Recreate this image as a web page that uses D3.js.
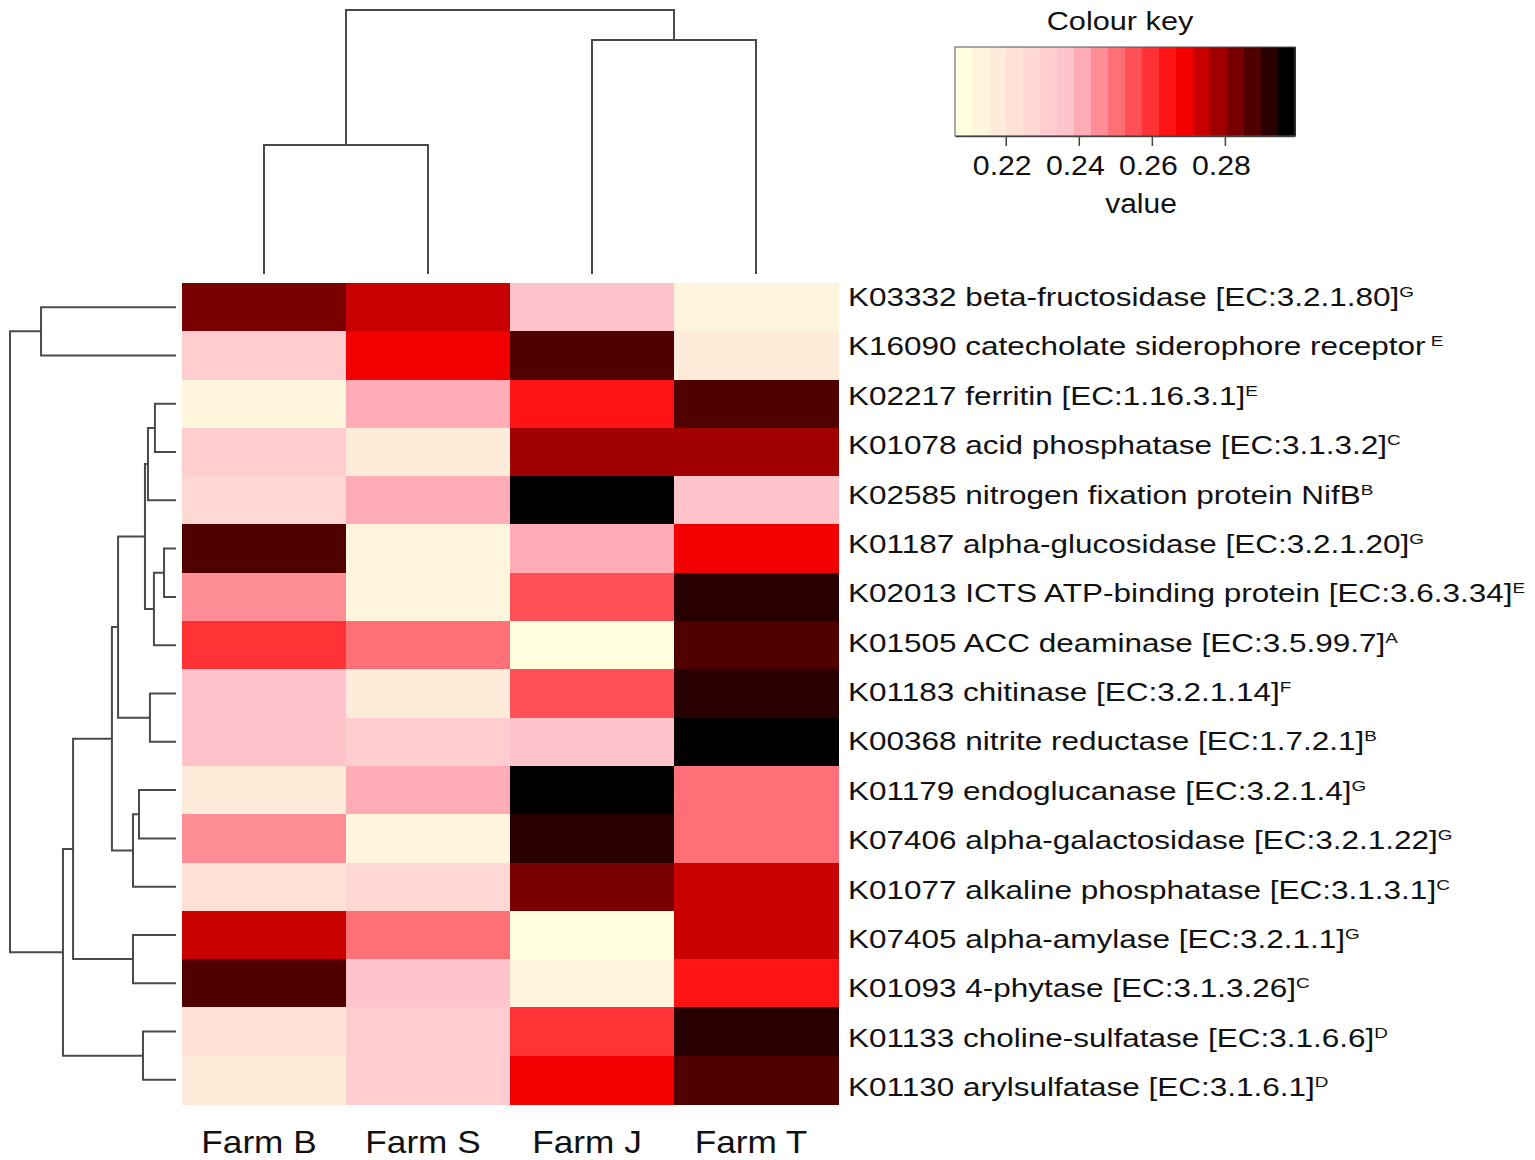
<html>
<head>
  <title>Heatmap with dendrograms</title>
  <script src="https://cdnjs.cloudflare.com/ajax/libs/d3/7.8.5/d3.min.js"></script>
  <meta charset="utf-8">
  <style>
    body { margin: 0; background: #fff; }
    text { font-family: "Liberation Sans", Arial, sans-serif; fill: #111; }
    .dendro { fill: none; stroke: #4a4a4a; stroke-width: 2px; }
    .cell { shape-rendering: crispEdges; }
  </style>
</head>
<body>
  <svg id="chart" width="1535" height="1160"></svg>
  <script>
    // columns (farms), left to right
    var colLabels = ["Farm B", "Farm S", "Farm J", "Farm T"];

    // rows, top to bottom
    var rowIds = ["K03332", "K16090", "K02217", "K01078", "K02585", "K01187", "K02013", "K01505",
                  "K01183", "K00368", "K01179", "K07406", "K01077", "K07405", "K01093", "K01133", "K01130"];
    var rowNames = ["beta-fructosidase [EC:3.2.1.80]", "catecholate siderophore receptor", "ferritin [EC:1.16.3.1]",
                    "acid phosphatase [EC:3.1.3.2]", "nitrogen fixation protein NifB", "alpha-glucosidase [EC:3.2.1.20]",
                    "ICTS ATP-binding protein [EC:3.6.3.34]", "ACC deaminase [EC:3.5.99.7]", "chitinase [EC:3.2.1.14]",
                    "nitrite reductase [EC:1.7.2.1]", "endoglucanase [EC:3.2.1.4]", "alpha-galactosidase [EC:3.2.1.22]",
                    "alkaline phosphatase [EC:3.1.3.1]", "alpha-amylase [EC:3.2.1.1]", "4-phytase [EC:3.1.3.26]",
                    "choline-sulfatase [EC:3.1.6.6]", "arylsulfatase [EC:3.1.6.1]"];
    var rowSups = ["G", " E", "E", "C", "B", "G", "E", "A", "F", "B", "G", "G", "C", "G", "C", "D", "D"];

    // cell values per farm (same row order)
    var farmB = [0.283, 0.232, 0.213, 0.232, 0.227, 0.288, 0.246, 0.260, 0.236, 0.236, 0.218, 0.246, 0.222, 0.274, 0.288, 0.222, 0.218];
    var farmS = [0.274, 0.269, 0.241, 0.218, 0.241, 0.213, 0.213, 0.250, 0.218, 0.232, 0.241, 0.213, 0.227, 0.250, 0.236, 0.232, 0.232];
    var farmJ = [0.236, 0.288, 0.264, 0.278, 0.297, 0.241, 0.255, 0.208, 0.255, 0.236, 0.297, 0.292, 0.283, 0.208, 0.213, 0.260, 0.269];
    var farmT = [0.213, 0.218, 0.288, 0.278, 0.236, 0.269, 0.292, 0.288, 0.292, 0.297, 0.250, 0.250, 0.274, 0.274, 0.264, 0.292, 0.288];

    // colour key
    var keyRange = [0.2061, 0.2992];
    var keyTicks = [0.22, 0.24, 0.26, 0.28];
    var keyStops = ["#FFFFE0", "#FFC0CB", "#FF0000", "#000000"];
    var keyBins = 20;

    // hclust-style merges: negative = leaf (1-based), positive = earlier merge; third = height
    var rowMerges = [[-3, -4, 0.127], [1, -5, 0.169], [-6, -7, 0.072], [3, -8, 0.133], [2, 4, 0.187],
                     [-9, -10, 0.157], [5, 6, 0.349], [-11, -12, 0.223], [8, -13, 0.259], [7, 9, 0.386],
                     [-14, -15, 0.259], [10, 11, 0.620], [-16, -17, 0.199], [12, 13, 0.681],
                     [-1, -2, 0.813], [15, 14, 1.0]];
    var colMerges = [[-1, -2, 0.489], [-3, -4, 0.886], [1, 2, 1.0]];

    var svg = d3.select("#chart");

    var x = d3.scaleBand().domain(colLabels).range([182, 838]);
    var y = d3.scaleBand().domain(rowIds).range([283, 1104]);
    var labelY = d3.scalePoint().domain(rowIds).range([297, 1087]);
    var rowDendX = d3.scaleLinear().domain([0, 1]).range([176, 10]);
    var colDendY = d3.scaleLinear().domain([0, 1]).range([274, 10]);

    var palette = d3.quantize(d3.piecewise(d3.interpolateRgb, keyStops), keyBins);
    var color = d3.scaleQuantize().domain(keyRange).range(palette);

    // heatmap cells
    var columns = [farmB, farmS, farmJ, farmT];
    var cells = [];
    columns.forEach((vals, c) => {
      vals.forEach((v, r) => {
        cells.push({col: colLabels[c], row: rowIds[r], value: v});
      });
    });

    svg.append("g")
      .selectAll("rect")
      .data(cells)
      .enter()
      .append("rect")
      .attr("class", "cell")
      .attr("x", d => x(d.col))
      .attr("y", d => y(d.row))
      .attr("width", x.bandwidth() + 0.5)
      .attr("height", y.bandwidth() + 0.5)
      .attr("fill", d => color(d.value));

    // dendrograms
    function dendroSegments(merges, leafPos) {
      var nodes = merges.map(() => null);
      var getNode = id => id < 0 ? {pos: leafPos[-id - 1], h: 0} : nodes[id - 1];
      var segs = [];
      merges.forEach((m, i) => {
        var a = getNode(m[0]), b = getNode(m[1]);
        nodes[i] = {pos: (a.pos + b.pos) / 2, h: m[2]};
        segs.push({a: a, b: b, h: m[2]});
      });
      return segs;
    }

    var rowLeafPos = rowIds.map(r => y(r) + y.bandwidth() / 2);
    svg.append("g")
      .selectAll("path")
      .data(dendroSegments(rowMerges, rowLeafPos))
      .enter()
      .append("path")
      .attr("class", "dendro")
      .attr("d", s => `M${rowDendX(s.a.h)},${s.a.pos}H${rowDendX(s.h)}V${s.b.pos}H${rowDendX(s.b.h)}`);

    var colLeafPos = colLabels.map(c => x(c) + x.bandwidth() / 2);
    svg.append("g")
      .selectAll("path")
      .data(dendroSegments(colMerges, colLeafPos))
      .enter()
      .append("path")
      .attr("class", "dendro")
      .attr("d", s => `M${s.a.pos},${colDendY(s.a.h)}V${colDendY(s.h)}H${s.b.pos}V${colDendY(s.b.h)}`);

    // row labels
    var rowText = svg.append("g")
      .selectAll("text")
      .data(rowIds)
      .enter()
      .append("text")
      .attr("transform", d => `translate(848,${labelY(d) + 9}) scale(1.26,1)`)
      .style("font-size", "25px");
    rowText.append("tspan").text((d, i) => d + " " + rowNames[i]);
    rowText.append("tspan")
      .attr("dy", -9)
      .style("font-size", "15px")
      .text((d, i) => rowSups[i]);

    // column labels
    svg.append("g")
      .selectAll("text")
      .data(colLabels)
      .enter()
      .append("text")
      .attr("transform", d => `translate(${x(d) + x.bandwidth() / 2 - 5},1153) scale(1.1,1)`)
      .attr("text-anchor", "middle")
      .style("font-size", "32px")
      .text(d => d);

    // colour key
    var keyX = d3.scaleLinear().domain(keyRange).range([955, 1295]);
    var key = svg.append("g");
    key.selectAll("rect")
      .data(palette)
      .enter()
      .append("rect")
      .attr("class", "cell")
      .attr("x", c => keyX(color.invertExtent(c)[0]))
      .attr("y", 47)
      .attr("width", c => keyX(color.invertExtent(c)[1]) - keyX(color.invertExtent(c)[0]) + 0.5)
      .attr("height", 89)
      .attr("fill", c => c);
    key.append("rect")
      .attr("x", 955).attr("y", 47).attr("width", 340).attr("height", 89)
      .attr("fill", "none").attr("stroke", "#555").attr("stroke-width", 1);

    var axis = key.append("g")
      .attr("transform", "translate(0,136)")
      .call(d3.axisBottom(keyX).tickValues(keyTicks).tickSize(10).tickSizeOuter(0).tickFormat(d3.format(".2f")));
    axis.select(".domain").attr("stroke", "#444").attr("stroke-width", 1.5);
    axis.selectAll(".tick line").attr("stroke", "#444").attr("stroke-width", 1.5);
    axis.selectAll(".tick text")
      .attr("y", 0).attr("dy", 0)
      .attr("transform", "translate(-4,39) scale(1.08,1)")
      .style("font-size", "28px")
      .style("font-family", "'Liberation Sans', Arial, sans-serif")
      .attr("fill", "#111");

    key.append("text")
      .attr("transform", "translate(1120,30) scale(1.18,1)")
      .attr("text-anchor", "middle")
      .style("font-size", "26px")
      .text("Colour key");
    key.append("text")
      .attr("transform", "translate(1141,213) scale(1.07,1)")
      .attr("text-anchor", "middle")
      .style("font-size", "28px")
      .text("value");
  </script>
</body>
</html>
